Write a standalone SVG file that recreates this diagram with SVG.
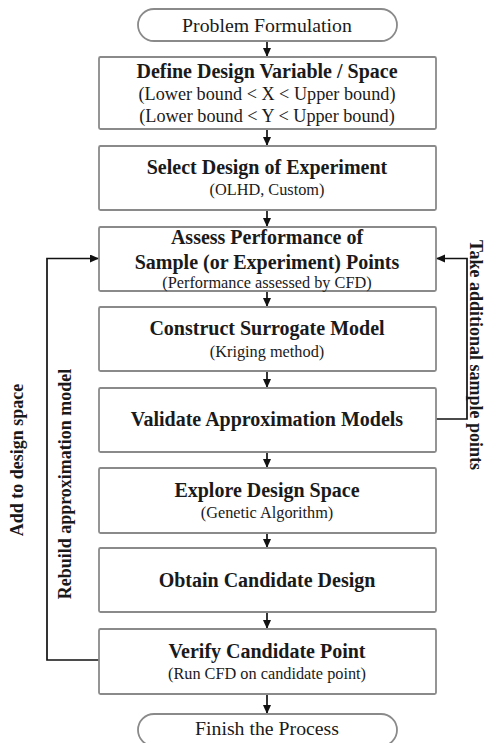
<svg xmlns="http://www.w3.org/2000/svg" width="486" height="743" viewBox="0 0 486 743">
<style>
.box{fill:#fff;stroke:#8a8a8a;stroke-width:1.8}
.t{font-family:"Liberation Serif","Times New Roman",serif;fill:#1a1a1a;text-anchor:middle}
.h{font-weight:bold;font-size:20px}
.s{font-size:16.3px;font-weight:normal}
.m{font-size:18.2px;font-weight:normal}
.r{font-size:19.8px;font-weight:normal}
.side{font-family:"Liberation Serif","Times New Roman",serif;font-weight:bold;font-size:18px;fill:#1a1a1a;text-anchor:middle}
.c{fill:none;stroke:#111;stroke-width:1.7}
</style>
<defs>
<marker id="ah" markerUnits="userSpaceOnUse" markerWidth="10" markerHeight="9" refX="9" refY="4" orient="auto">
<path d="M0,0 L9,4 L0,8 z" fill="#111"/>
</marker>
</defs>
<rect width="486" height="743" fill="#fff"/>
<g id="connectors">
<line class="c" x1="267" y1="41" x2="267" y2="57" marker-end="url(#ah)"/>
<line class="c" x1="267" y1="129" x2="267" y2="146" marker-end="url(#ah)"/>
<line class="c" x1="267" y1="210" x2="267" y2="227" marker-end="url(#ah)"/>
<line class="c" x1="267" y1="291" x2="267" y2="307" marker-end="url(#ah)"/>
<line class="c" x1="267" y1="371" x2="267" y2="388" marker-end="url(#ah)"/>
<line class="c" x1="267" y1="452" x2="267" y2="468" marker-end="url(#ah)"/>
<line class="c" x1="267" y1="533" x2="267" y2="548" marker-end="url(#ah)"/>
<line class="c" x1="267" y1="612" x2="267" y2="629" marker-end="url(#ah)"/>
<line class="c" x1="267" y1="694" x2="267" y2="714" marker-end="url(#ah)"/>
<polyline class="c" points="99,660 47,660 47,258.5 99,258.5" marker-end="url(#ah)"/>
<polyline class="c" points="436,419 467,419 467,258.5 436,258.5" marker-end="url(#ah)"/>
<text class="side" transform="translate(23,460) rotate(-90)">Add to design space</text>
<text class="side" transform="translate(71,484) rotate(-90)">Rebuild approximation model</text>
<text class="side" transform="translate(470,355) rotate(90)">Take additional sample points</text>
</g>
<g id="start">
<rect class="box" x="138" y="9" width="259" height="32" rx="16"/>
<text class="t r" x="267" y="32">Problem Formulation</text>
</g>
<g id="define">
<rect class="box" x="99" y="57" width="337" height="72" rx="1.5"/>
<text class="t h" x="267" y="78">Define Design Variable / Space</text>
<text class="t m" x="267" y="100">(Lower bound &lt; X &lt; Upper bound)</text>
<text class="t m" x="267" y="122">(Lower bound &lt; Y &lt; Upper bound)</text>
</g>
<g id="select">
<rect class="box" x="99" y="146" width="337" height="64" rx="1.5"/>
<text class="t h" x="267" y="174">Select Design of Experiment</text>
<text class="t s" x="267" y="195">(OLHD, Custom)</text>
</g>
<g id="assess">
<rect class="box" x="99" y="227" width="337" height="64" rx="1.5"/>
<text class="t h" x="267" y="243.5">Assess Performance of</text>
<text class="t h" x="267" y="268.5">Sample (or Experiment) Points</text>
<text class="t s" x="267" y="287.5">(Performance assessed by CFD)</text>
</g>
<g id="construct">
<rect class="box" x="99" y="307" width="337" height="64" rx="1.5"/>
<text class="t h" x="267" y="335">Construct Surrogate Model</text>
<text class="t s" x="267" y="356.5">(Kriging method)</text>
</g>
<g id="validate">
<rect class="box" x="99" y="388" width="337" height="64" rx="1.5"/>
<text class="t h" x="267" y="425.5">Validate Approximation Models</text>
</g>
<g id="explore">
<rect class="box" x="99" y="468" width="337" height="65" rx="1.5"/>
<text class="t h" x="267" y="496.5">Explore Design Space</text>
<text class="t s" x="267" y="517.5">(Genetic Algorithm)</text>
</g>
<g id="obtain">
<rect class="box" x="99" y="548" width="337" height="64" rx="1.5"/>
<text class="t h" x="267" y="587">Obtain Candidate Design</text>
</g>
<g id="verify">
<rect class="box" x="99" y="629" width="337" height="65" rx="1.5"/>
<text class="t h" x="267" y="657.5">Verify Candidate Point</text>
<text class="t s" x="267" y="679">(Run CFD on candidate point)</text>
</g>
<g id="finish">
<rect class="box" x="138" y="714" width="259" height="32" rx="16"/>
<text class="t r" x="267" y="735">Finish the Process</text>
</g>
</svg>
